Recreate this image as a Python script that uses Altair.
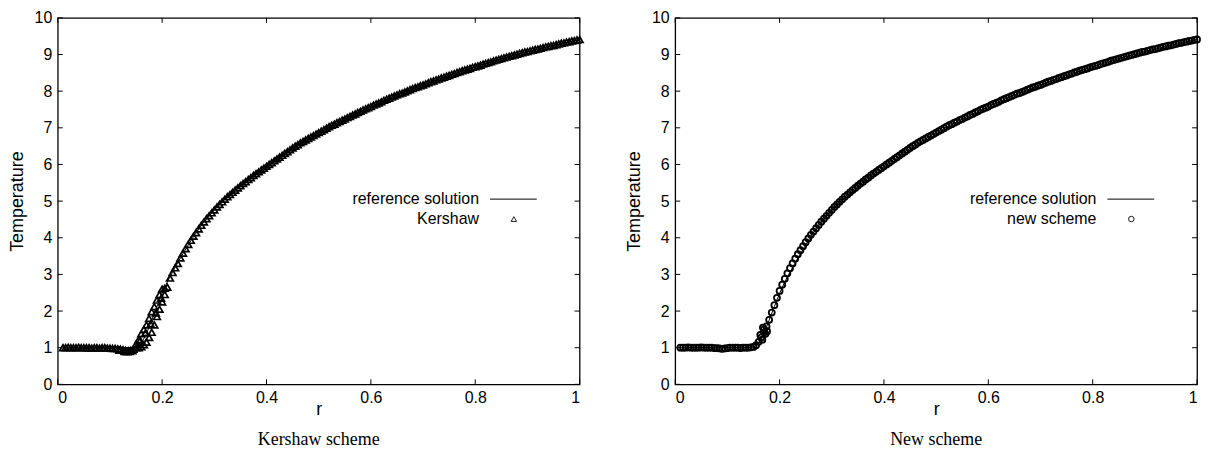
import altair as alt
import pandas as pd

# ---------------- data ----------------
x_ticks = [0, 0.2, 0.4, 0.6, 0.8, 1]
y_ticks = [0, 1, 2, 3, 4, 5, 6, 7, 8, 9, 10]

r_ref = [0.01, 0.05, 0.10, 0.14, 0.15, 0.16, 0.17, 0.18, 0.19, 0.20, 0.21, 0.22, 0.23, 0.24,
         0.25, 0.26, 0.28, 0.30, 0.32, 0.34, 0.36, 0.38, 0.40, 0.43, 0.46, 0.50, 0.55, 0.60,
         0.65, 0.70, 0.75, 0.80, 0.85, 0.90, 0.95, 1.00]
T_ref = [1.00, 1.00, 1.00, 1.00, 1.02, 1.12, 1.38, 1.75, 2.12, 2.48, 2.80, 3.06, 3.32, 3.57,
         3.80, 4.03, 4.43, 4.76, 5.05, 5.30, 5.53, 5.75, 5.95, 6.25, 6.54, 6.87, 7.24, 7.58,
         7.90, 8.17, 8.43, 8.67, 8.89, 9.08, 9.25, 9.41]

# Kershaw scheme cells
r_kershaw = [0.010, 0.015, 0.020, 0.025, 0.030, 0.035, 0.040, 0.045, 0.050, 0.055, 0.060,
             0.065, 0.070, 0.075, 0.080, 0.085, 0.090, 0.095, 0.100, 0.105, 0.110, 0.115,
             0.120, 0.125, 0.130, 0.135, 0.140, 0.145, 0.150,
             0.118, 0.128, 0.133, 0.138, 0.143,
             0.150, 0.155, 0.160, 0.165, 0.170, 0.175, 0.180, 0.185, 0.190, 0.195, 0.200,
             0.155, 0.160, 0.165, 0.170, 0.175, 0.180, 0.185, 0.190, 0.195, 0.200, 0.205, 0.210,
             0.158, 0.168, 0.178, 0.188, 0.198, 0.205,
             0.215, 0.220, 0.225, 0.230, 0.235, 0.240, 0.245, 0.250, 0.255, 0.260, 0.265,
             0.270, 0.275, 0.280, 0.285, 0.290, 0.295, 0.300,
             0.31, 0.32, 0.33, 0.34, 0.35, 0.36, 0.37, 0.38, 0.39, 0.40, 0.41, 0.42, 0.43,
             0.44, 0.45, 0.46, 0.47, 0.48, 0.49, 0.50, 0.51, 0.52, 0.53, 0.54, 0.55, 0.56,
             0.57, 0.58, 0.59, 0.60, 0.61, 0.62, 0.63, 0.64, 0.65, 0.66, 0.67, 0.68, 0.69,
             0.70, 0.71, 0.72, 0.73, 0.74, 0.75, 0.76, 0.77, 0.78, 0.79, 0.80, 0.81, 0.82,
             0.83, 0.84, 0.85, 0.86, 0.87, 0.88, 0.89, 0.90, 0.91, 0.92, 0.93, 0.94, 0.95,
             0.96, 0.97, 0.98, 0.99, 1.00,
             0.305, 0.315, 0.325, 0.335, 0.345, 0.355, 0.365, 0.375, 0.385, 0.395, 0.405,
             0.415, 0.425, 0.435, 0.445, 0.455, 0.465, 0.475, 0.485, 0.495, 0.505, 0.515,
             0.525, 0.535, 0.545, 0.555, 0.565, 0.575, 0.585, 0.595, 0.605, 0.615, 0.625,
             0.635, 0.645, 0.655, 0.665, 0.675, 0.685, 0.695, 0.705, 0.715, 0.725, 0.735,
             0.745, 0.755, 0.765, 0.775, 0.785, 0.795, 0.805, 0.815, 0.825, 0.835, 0.845,
             0.855, 0.865, 0.875, 0.885, 0.895, 0.905, 0.915, 0.925, 0.935, 0.945, 0.955,
             0.965, 0.975, 0.985, 0.995]
T_kershaw = [1.00, 1.00, 1.01, 1.00, 1.00, 1.00, 1.01, 1.00, 1.00, 1.00, 1.00,
             0.99, 1.00, 1.00, 0.99, 1.00, 1.00, 0.99, 0.99, 0.98, 0.98, 0.97,
             0.96, 0.95, 0.93, 0.92, 0.93, 0.96, 1.00,
             0.93, 0.90, 0.89, 0.90, 0.92,
             1.10, 1.22, 1.38, 1.50, 1.62, 1.80, 1.98, 2.12, 2.30, 2.45, 2.60,
             1.00, 1.03, 1.08, 1.15, 1.28, 1.42, 1.62, 1.85, 2.05, 2.25, 2.45, 2.65,
             1.20, 1.40, 1.65, 1.95, 2.35, 2.62,
             2.90, 3.05, 3.18, 3.30, 3.45, 3.58, 3.70, 3.82, 3.93, 4.04, 4.14,
             4.24, 4.34, 4.43, 4.52, 4.60, 4.68, 4.76,
             4.91, 5.05, 5.18, 5.30, 5.42, 5.53, 5.64, 5.75, 5.85, 5.95, 6.05, 6.15, 6.25,
             6.35, 6.45, 6.54, 6.63, 6.71, 6.79, 6.87, 6.95, 7.03, 7.10, 7.17, 7.24, 7.31,
             7.38, 7.45, 7.52, 7.58, 7.65, 7.71, 7.78, 7.84, 7.90, 7.95, 8.01, 8.07, 8.12,
             8.17, 8.23, 8.28, 8.33, 8.38, 8.43, 8.48, 8.53, 8.58, 8.62, 8.67, 8.71, 8.76,
             8.80, 8.85, 8.89, 8.93, 8.97, 9.01, 9.05, 9.08, 9.12, 9.15, 9.19, 9.22, 9.25,
             9.29, 9.32, 9.35, 9.38, 9.41,
             4.84, 4.98, 5.12, 5.24, 5.36, 5.48, 5.59, 5.70, 5.80, 5.90, 6.00,
             6.10, 6.20, 6.30, 6.40, 6.50, 6.59, 6.67, 6.75, 6.83, 6.91, 6.99,
             7.07, 7.14, 7.21, 7.28, 7.35, 7.42, 7.49, 7.55, 7.62, 7.68, 7.75,
             7.81, 7.87, 7.93, 7.98, 8.04, 8.10, 8.15, 8.20, 8.26, 8.31, 8.36,
             8.41, 8.46, 8.51, 8.56, 8.60, 8.65, 8.69, 8.74, 8.78, 8.83, 8.87,
             8.91, 8.95, 8.99, 9.03, 9.07, 9.10, 9.14, 9.17, 9.21, 9.24, 9.27,
             9.31, 9.34, 9.37, 9.40]

# New scheme cells
r_new = [0.010, 0.015, 0.020, 0.025, 0.030, 0.035, 0.040, 0.045, 0.050, 0.055, 0.060,
         0.065, 0.070, 0.075, 0.080, 0.085, 0.090, 0.095, 0.100, 0.105, 0.110, 0.115,
         0.120, 0.125, 0.130, 0.135, 0.140, 0.145,
         0.150, 0.155, 0.160, 0.165, 0.170, 0.175, 0.180, 0.185, 0.190, 0.195, 0.200,
         0.205, 0.210,
         0.163, 0.167, 0.170, 0.173, 0.176, 0.168,
         0.215, 0.220, 0.225, 0.230, 0.235, 0.240, 0.245, 0.250, 0.255, 0.260, 0.265,
         0.270, 0.275, 0.280, 0.285, 0.290, 0.295, 0.300,
         0.31, 0.32, 0.33, 0.34, 0.35, 0.36, 0.37, 0.38, 0.39, 0.40, 0.41, 0.42, 0.43,
         0.44, 0.45, 0.46, 0.47, 0.48, 0.49, 0.50, 0.51, 0.52, 0.53, 0.54, 0.55, 0.56,
         0.57, 0.58, 0.59, 0.60, 0.61, 0.62, 0.63, 0.64, 0.65, 0.66, 0.67, 0.68, 0.69,
         0.70, 0.71, 0.72, 0.73, 0.74, 0.75, 0.76, 0.77, 0.78, 0.79, 0.80, 0.81, 0.82,
         0.83, 0.84, 0.85, 0.86, 0.87, 0.88, 0.89, 0.90, 0.91, 0.92, 0.93, 0.94, 0.95,
         0.96, 0.97, 0.98, 0.99, 1.00,
         0.305, 0.315, 0.325, 0.335, 0.345, 0.355, 0.365, 0.375, 0.385, 0.395, 0.405,
         0.415, 0.425, 0.435, 0.445, 0.455, 0.465, 0.475, 0.485, 0.495, 0.505, 0.515,
         0.525, 0.535, 0.545, 0.555, 0.565, 0.575, 0.585, 0.595, 0.605, 0.615, 0.625,
         0.635, 0.645, 0.655, 0.665, 0.675, 0.685, 0.695, 0.705, 0.715, 0.725, 0.735,
         0.745, 0.755, 0.765, 0.775, 0.785, 0.795, 0.805, 0.815, 0.825, 0.835, 0.845,
         0.855, 0.865, 0.875, 0.885, 0.895, 0.905, 0.915, 0.925, 0.935, 0.945, 0.955,
         0.965, 0.975, 0.985, 0.995]
T_new = [1.00, 1.00, 1.00, 1.01, 1.00, 1.00, 1.00, 1.00, 1.01, 1.00, 1.00,
         1.00, 1.00, 0.99, 0.99, 0.98, 0.97, 0.98, 0.99, 1.00, 1.00, 1.00,
         1.00, 0.99, 1.00, 1.00, 1.00, 1.01,
         1.02, 1.07, 1.16, 1.28, 1.42, 1.58, 1.76, 1.96, 2.16, 2.36, 2.55,
         2.72, 2.88,
         1.35, 1.22, 1.50, 1.38, 1.45, 1.55,
         3.03, 3.17, 3.30, 3.43, 3.55, 3.66, 3.77, 3.88, 3.98, 4.08, 4.17,
         4.26, 4.35, 4.44, 4.52, 4.60, 4.68, 4.76,
         4.91, 5.05, 5.18, 5.30, 5.42, 5.53, 5.64, 5.75, 5.85, 5.95, 6.05, 6.15, 6.25,
         6.35, 6.45, 6.54, 6.63, 6.71, 6.79, 6.87, 6.95, 7.03, 7.10, 7.17, 7.24, 7.31,
         7.38, 7.45, 7.52, 7.58, 7.65, 7.71, 7.78, 7.84, 7.90, 7.95, 8.01, 8.07, 8.12,
         8.17, 8.23, 8.28, 8.33, 8.38, 8.43, 8.48, 8.53, 8.58, 8.62, 8.67, 8.71, 8.76,
         8.80, 8.85, 8.89, 8.93, 8.97, 9.01, 9.05, 9.08, 9.12, 9.15, 9.19, 9.22, 9.25,
         9.29, 9.32, 9.35, 9.38, 9.41,
         4.84, 4.98, 5.12, 5.24, 5.36, 5.48, 5.59, 5.70, 5.80, 5.90, 6.00,
         6.10, 6.20, 6.30, 6.40, 6.50, 6.59, 6.67, 6.75, 6.83, 6.91, 6.99,
         7.07, 7.14, 7.21, 7.28, 7.35, 7.42, 7.49, 7.55, 7.62, 7.68, 7.75,
         7.81, 7.87, 7.93, 7.98, 8.04, 8.10, 8.15, 8.20, 8.26, 8.31, 8.36,
         8.41, 8.46, 8.51, 8.56, 8.60, 8.65, 8.69, 8.74, 8.78, 8.83, 8.87,
         8.91, 8.95, 8.99, 9.03, 9.07, 9.10, 9.14, 9.17, 9.21, 9.24, 9.27,
         9.31, 9.34, 9.37, 9.40]

# ---------------- layout ----------------
W, H = 524, 368
FONT = "Liberation Sans"

ref_df = pd.DataFrame({"r": r_ref, "T": T_ref})
xt_df = pd.DataFrame({"r": x_ticks})
yt_df = pd.DataFrame({"T": y_ticks})
one = pd.DataFrame({"k": [0]})

xscale = alt.Scale(domain=[0, 1], nice=False, zero=False)
yscale = alt.Scale(domain=[0, 10], nice=False, zero=False)

x_axis = alt.Axis(values=x_ticks, format="~g", title="r", tickSize=0, domain=False,
                  grid=False, labelFontSize=16, titleFontSize=18, labelPadding=5,
                  titlePadding=-5, labelColor="black", titleColor="black",
                  titleFontWeight="normal", labelFont=FONT, titleFont=FONT)
y_axis = alt.Axis(values=y_ticks, format="d", title="Temperature", tickSize=0,
                  domain=False, grid=False, labelFontSize=16, titleFontSize=18,
                  labelPadding=6, titlePadding=8, labelColor="black",
                  titleColor="black", titleFontWeight="normal", labelFont=FONT,
                  titleFont=FONT)
X = alt.X("r:Q", scale=xscale, axis=x_axis)
Y = alt.Y("T:Q", scale=yscale, axis=y_axis)


def panel(pr, pT, shape, msize, mstroke, name, title):
    pts_df = pd.DataFrame({"r": pr, "T": pT})
    line = alt.Chart(ref_df).mark_line(color="black", strokeWidth=1).encode(x=X, y=Y)
    pts = alt.Chart(pts_df).mark_point(shape=shape, filled=False, color="black",
                                       strokeWidth=mstroke, size=msize,
                                       opacity=1).encode(x=X, y=Y)
    tb = alt.Chart(xt_df).mark_rule(color="black", strokeWidth=1).encode(
        x=X, y=alt.value(H), y2=alt.value(H - 5))
    tt = alt.Chart(xt_df).mark_rule(color="black", strokeWidth=1).encode(
        x=X, y=alt.value(0), y2=alt.value(5))
    tl = alt.Chart(yt_df).mark_rule(color="black", strokeWidth=1).encode(
        y=Y, x=alt.value(0), x2=alt.value(5))
    tr = alt.Chart(yt_df).mark_rule(color="black", strokeWidth=1).encode(
        y=Y, x=alt.value(W), x2=alt.value(W - 5))
    lt1 = alt.Chart(one).mark_text(align="right", baseline="middle", fontSize=16,
                                   font=FONT, color="black").encode(
        x=alt.value(423), y=alt.value(182), text=alt.value("reference solution"))
    lt2 = alt.Chart(one).mark_text(align="right", baseline="middle", fontSize=16,
                                   font=FONT, color="black").encode(
        x=alt.value(423), y=alt.value(202), text=alt.value(name))
    ll = alt.Chart(one).mark_rule(color="black", strokeWidth=1).encode(
        x=alt.value(434), x2=alt.value(481), y=alt.value(182))
    ls = alt.Chart(one).mark_point(shape=shape, filled=False, color="black",
                                   strokeWidth=0.9, size=30, opacity=1).encode(
        x=alt.value(458), y=alt.value(202))
    return alt.layer(line, pts, tb, tt, tl, tr, lt1, lt2, ll, ls).properties(
        width=W, height=H,
        title=alt.TitleParams(title, orient="bottom", font="Liberation Serif",
                              fontSize=18, fontWeight="normal", color="black",
                              offset=13, anchor="middle", frame="group"),
    )


left = panel(r_kershaw, T_kershaw, "triangle-up", 46, 1.7, "Kershaw", "Kershaw scheme")
right = panel(r_new, T_new, "circle", 36, 1.8, "new scheme", "New scheme")

chart = alt.hconcat(left, right, spacing=37).properties(
    padding={"left": 7, "top": 8, "right": 4, "bottom": 5},
    background="white",
).configure_view(stroke="black", strokeWidth=1.3)

chart.save("out.html", embed_options={"renderer": "svg", "actions": False})
